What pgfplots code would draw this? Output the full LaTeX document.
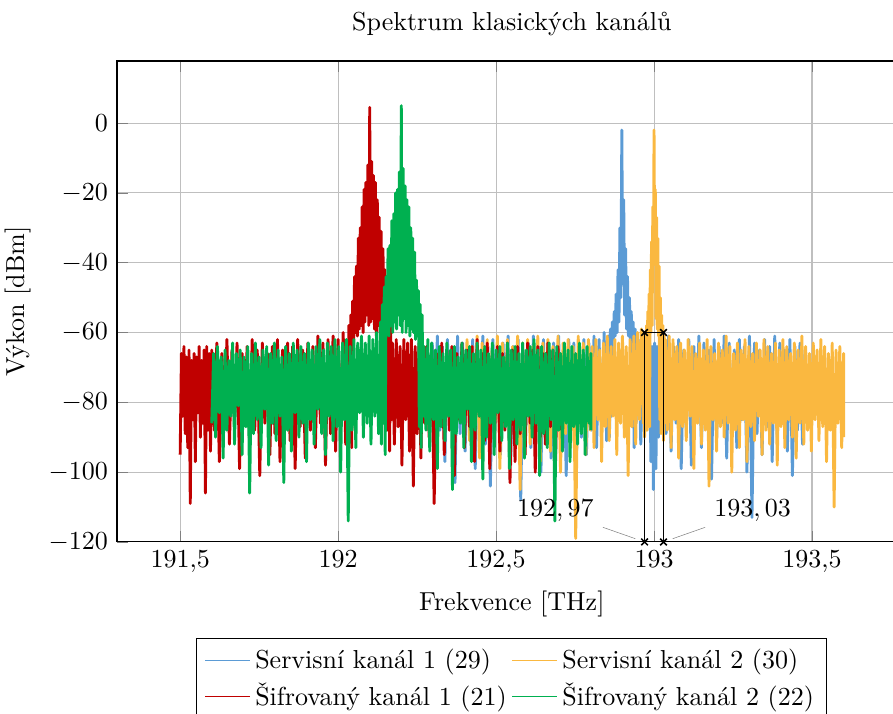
\documentclass[border=0pt]{standalone}
\usepackage{fontspec}
\usepackage{pgfplots}
\usepackage{pgfplotstable}
\pgfplotsset{compat=1.18}
\definecolor{cblue}{HTML}{5B9BD5}
\definecolor{corange}{HTML}{FAB840}
\definecolor{cred}{HTML}{C00000}
\definecolor{cgreen}{HTML}{00B050}

\pgfplotstableread{
x y
191.500 -95
191.504 -66
191.508 -84
191.512 -64
191.516 -89
191.520 -67
191.524 -93
191.528 -65
191.532 -109
191.536 -68
191.540 -85
191.544 -66
191.548 -97
191.552 -67
191.556 -83
191.560 -64
191.564 -90
191.568 -68
191.572 -86
191.576 -65
191.580 -106
191.584 -64
191.588 -88
191.592 -66
191.596 -94
191.600 -65
191.608 -88
191.616 -63
191.624 -97
191.632 -66
191.640 -85
191.648 -62
191.656 -92
191.664 -65
191.672 -87
191.680 -63
191.688 -99
191.696 -66
191.704 -84
191.712 -64
191.720 -93
191.728 -62
191.736 -88
191.744 -65
191.752 -101
191.760 -63
191.768 -86
191.776 -66
191.784 -95
191.792 -64
191.800 -89
191.808 -62
191.816 -97
191.824 -65
191.832 -85
191.840 -63
191.848 -91
191.856 -64
191.864 -99
191.872 -62
191.880 -87
191.888 -65
191.896 -96
191.904 -63
191.912 -88
191.920 -64
191.928 -93
191.936 -61
191.944 -86
191.952 -63
191.960 -98
191.968 -62
191.976 -89
191.984 -61
191.992 -94
192.000 -62
192.008 -87
192.016 -60
192.024 -92
192.031 -90
192.034 -58
192.037 -86
192.040 -55
192.043 -93
192.046 -51
192.049 -62
192.052 -44
192.055 -60
192.058 -41
192.061 -61
192.064 -33
192.067 -59
192.070 -30
192.073 -58
192.076 -24
192.079 -60
192.082 -19
192.085 -57
192.088 -17
192.091 -55
192.094 -12
192.097 -58
192.100 4.5
192.103 -57
192.106 -11
192.109 -56
192.112 -15
192.115 -59
192.118 -17
192.121 -61
192.124 -22
192.127 -58
192.130 -27
192.133 -60
192.136 -31
192.139 -62
192.142 -36
192.145 -61
192.148 -42
192.151 -63
192.154 -47
192.157 -88
192.160 -52
192.163 -94
192.166 -56
192.169 -85
192.172 -63
192.178 -92
192.184 -62
192.190 -87
192.196 -64
192.202 -98
192.208 -62
192.214 -85
192.220 -63
192.226 -94
192.232 -62
192.238 -104
192.244 -64
192.250 -89
192.256 -63
192.262 -96
192.268 -65
192.274 -86
192.280 -64
192.288 -90
192.296 -64
192.304 -109
192.312 -66
192.320 -86
192.328 -63
192.336 -95
192.344 -65
192.352 -88
192.360 -64
192.368 -101
192.376 -66
192.384 -85
192.392 -63
192.400 -93
192.408 -65
192.416 -87
192.424 -64
192.432 -97
192.440 -62
192.448 -84
192.456 -66
192.464 -91
192.472 -63
192.480 -99
192.488 -65
192.496 -86
192.504 -64
192.512 -94
192.520 -66
192.528 -88
192.536 -63
192.544 -103
192.552 -65
192.560 -97
192.568 -64
192.576 -89
192.584 -66
192.592 -95
192.600 -63
192.608 -86
192.616 -65
192.624 -100
192.632 -64
192.640 -90
192.648 -66
192.656 -92
192.664 -63
192.672 -87
192.680 -65
192.688 -98
192.696 -64
192.704 -88
}\redtab

\pgfplotstableread{
x y
191.600 -86
191.606 -66
191.612 -90
191.618 -64
191.624 -83
191.630 -67
191.636 -96
191.642 -65
191.648 -88
191.654 -68
191.660 -84
191.666 -63
191.672 -92
191.678 -66
191.684 -81
191.690 -65
191.696 -95
191.702 -67
191.708 -87
191.714 -64
191.720 -106
191.726 -66
191.732 -89
191.738 -63
191.744 -85
191.750 -67
191.756 -93
191.762 -65
191.768 -82
191.774 -64
191.780 -98
191.786 -66
191.792 -86
191.798 -63
191.804 -91
191.810 -65
191.816 -84
191.822 -67
191.828 -103
191.834 -64
191.840 -88
191.846 -66
191.852 -94
191.858 -63
191.864 -83
191.870 -65
191.876 -90
191.882 -64
191.888 -86
191.894 -66
191.900 -97
191.906 -63
191.912 -85
191.918 -65
191.924 -92
191.930 -64
191.936 -82
191.942 -62
191.948 -89
191.954 -65
191.960 -95
191.966 -63
191.972 -84
191.978 -64
191.984 -91
191.990 -62
191.996 -87
192.002 -64
192.008 -100
192.014 -63
192.020 -85
192.026 -62
192.032 -114
192.038 -64
192.044 -88
192.050 -62
192.056 -93
192.062 -63
192.068 -83
192.074 -61
192.080 -90
192.086 -63
192.092 -86
192.098 -61
192.104 -92
192.110 -62
192.116 -84
192.122 -60
192.128 -89
192.131 -88
192.134 -57
192.137 -92
192.140 -52
192.143 -86
192.146 -47
192.149 -95
192.152 -44
192.155 -60
192.158 -36
192.161 -61
192.164 -35
192.167 -58
192.170 -28
192.173 -60
192.176 -26
192.179 -57
192.182 -20
192.185 -59
192.188 -19
192.191 -55
192.194 -14
192.197 -58
192.200 5
192.203 -60
192.206 -13
192.209 -56
192.212 -18
192.215 -60
192.218 -22
192.221 -58
192.224 -24
192.227 -61
192.230 -30
192.233 -59
192.236 -33
192.239 -60
192.242 -37
192.245 -62
192.248 -45
192.251 -61
192.254 -48
192.257 -87
192.260 -52
192.263 -93
192.266 -55
192.269 -84
192.272 -64
192.278 -88
192.284 -62
192.290 -94
192.296 -63
192.302 -85
192.308 -65
192.314 -99
192.320 -64
192.326 -87
192.332 -66
192.338 -91
192.344 -63
192.350 -84
192.356 -65
192.362 -105
192.368 -64
192.374 -89
192.380 -67
192.386 -86
192.392 -63
192.398 -93
192.404 -65
192.410 -82
192.416 -64
192.422 -97
192.428 -66
192.434 -88
192.440 -63
192.446 -84
192.452 -65
192.458 -102
192.464 -64
192.470 -90
192.476 -66
192.482 -86
192.488 -63
192.494 -95
192.500 -65
192.506 -83
192.512 -64
192.518 -91
192.524 -67
192.530 -87
192.536 -63
192.542 -99
192.548 -65
192.554 -85
192.560 -64
192.566 -92
192.572 -66
192.578 -88
192.584 -63
192.590 -96
192.596 -65
192.602 -84
192.608 -64
192.614 -90
192.620 -62
192.626 -86
192.632 -65
192.638 -101
192.644 -64
192.650 -89
192.656 -66
192.662 -93
192.668 -63
192.674 -85
192.680 -65
192.686 -114
192.692 -64
192.698 -88
192.704 -66
192.710 -94
192.716 -63
192.722 -86
192.728 -65
192.734 -97
192.740 -64
192.746 -87
192.752 -66
192.758 -92
192.764 -63
192.770 -89
192.776 -65
192.782 -95
192.788 -64
192.794 -86
192.800 -66
192.800 -88
}\greentab

\pgfplotstableread{
x y
192.290 -85
192.298 -63
192.306 -92
192.314 -61
192.322 -88
192.330 -64
192.338 -97
192.346 -62
192.354 -86
192.362 -65
192.370 -103
192.378 -61
192.386 -89
192.394 -63
192.402 -94
192.410 -64
192.418 -85
192.426 -62
192.434 -99
192.442 -65
192.450 -87
192.458 -61
192.466 -92
192.474 -64
192.482 -104
192.490 -62
192.498 -88
192.506 -65
192.514 -95
192.522 -63
192.530 -86
192.538 -61
192.546 -98
192.554 -64
192.562 -90
192.570 -62
192.578 -108
192.586 -65
192.594 -87
192.602 -63
192.610 -93
192.618 -61
192.626 -85
192.634 -64
192.642 -100
192.650 -62
192.658 -89
192.666 -65
192.674 -96
192.682 -63
192.690 -88
192.698 -61
192.706 -94
192.714 -64
192.722 -101
192.730 -62
192.738 -86
192.746 -63
192.754 -97
192.762 -64
192.770 -90
192.778 -62
192.786 -95
192.794 -63
192.802 -88
192.810 -61
192.818 -93
192.826 -62
192.834 -87
192.842 -60
192.850 -91
192.853 -88
192.856 -61
192.859 -90
192.862 -59
192.865 -84
192.868 -57
192.871 -62
192.874 -54
192.877 -61
192.880 -49
192.883 -60
192.886 -42
192.889 -57
192.892 -30
192.895 -50
192.898 -2
192.901 -46
192.904 -22
192.907 -55
192.910 -36
192.913 -59
192.916 -44
192.919 -61
192.922 -50
192.925 -62
192.928 -54
192.931 -87
192.934 -57
192.937 -93
192.940 -59
192.943 -86
192.950 -62
192.958 -92
192.966 -61
192.974 -88
192.978 -62
192.982 -84
192.986 -63
192.990 -97
192.994 -64
192.998 -105
193.002 -63
193.006 -99
193.010 -64
193.014 -90
193.018 -62
193.022 -86
193.030 -63
193.038 -89
193.046 -61
193.054 -94
193.062 -64
193.070 -86
193.078 -62
193.086 -99
193.094 -65
193.102 -88
193.110 -62
193.118 -98
193.126 -64
193.134 -85
193.142 -61
193.150 -93
193.158 -63
193.166 -87
193.174 -65
193.182 -102
193.190 -62
193.198 -90
193.206 -64
193.214 -86
193.222 -61
193.230 -96
193.238 -63
193.246 -88
193.254 -65
193.262 -93
193.270 -62
193.278 -85
193.286 -64
193.294 -100
193.302 -61
193.310 -113
193.318 -63
193.326 -89
193.334 -65
193.342 -95
193.350 -62
193.358 -87
193.366 -64
193.374 -97
193.382 -61
193.390 -90
193.398 -63
193.406 -86
193.414 -65
193.422 -94
193.430 -62
193.438 -101
193.446 -64
193.454 -88
193.462 -63
193.470 -92
193.478 -65
193.486 -87
}\bluetab

\pgfplotstableread{
x y
192.400 -84
192.408 -62
192.416 -91
192.424 -64
192.432 -87
192.440 -61
192.448 -96
192.456 -63
192.464 -85
192.472 -62
192.480 -93
192.488 -64
192.496 -88
192.504 -61
192.512 -99
192.520 -63
192.528 -86
192.536 -62
192.544 -94
192.552 -64
192.560 -89
192.568 -61
192.576 -105
192.584 -63
192.592 -87
192.600 -62
192.608 -92
192.616 -64
192.624 -85
192.632 -61
192.640 -97
192.648 -63
192.656 -88
192.664 -62
192.672 -94
192.680 -64
192.688 -86
192.696 -61
192.704 -100
192.712 -63
192.720 -89
192.728 -62
192.736 -93
192.744 -64
192.752 -119
192.760 -61
192.768 -87
192.776 -63
192.784 -95
192.792 -62
192.798 -88
192.804 -64
192.810 -93
192.816 -62
192.822 -85
192.828 -65
192.834 -97
192.840 -63
192.846 -87
192.852 -61
192.858 -91
192.864 -64
192.870 -84
192.876 -62
192.882 -95
192.888 -63
192.894 -86
192.900 -61
192.906 -90
192.912 -64
192.918 -101
192.924 -62
192.930 -87
192.936 -61
192.942 -92
192.948 -60
192.954 -85
192.960 -59
192.964 -63
192.966 -86
192.968 -62
192.970 -90
192.972 -60
192.974 -85
192.976 -58
192.978 -88
192.980 -54
192.982 -84
192.984 -49
192.986 -87
192.988 -42
192.990 -60
192.992 -34
192.994 -58
192.996 -24
192.998 -40
193.000 -2
193.002 -38
193.004 -19
193.006 -56
193.008 -27
193.010 -59
193.012 -33
193.014 -61
193.016 -41
193.018 -85
193.020 -50
193.022 -89
193.024 -55
193.026 -84
193.028 -58
193.030 -91
193.032 -61
193.034 -86
193.036 -62
193.042 -88
193.048 -61
193.054 -93
193.060 -62
193.066 -85
193.072 -64
193.078 -96
193.084 -63
193.090 -87
193.096 -65
193.102 -91
193.108 -62
193.114 -84
193.120 -64
193.126 -99
193.132 -66
193.138 -86
193.144 -63
193.150 -92
193.156 -65
193.162 -88
193.168 -62
193.174 -104
193.180 -64
193.186 -85
193.192 -66
193.198 -94
193.204 -63
193.210 -87
193.216 -65
193.222 -90
193.228 -61
193.234 -86
193.240 -64
193.246 -100
193.252 -66
193.258 -88
193.264 -63
193.270 -93
193.276 -65
193.282 -85
193.288 -62
193.294 -97
193.300 -64
193.306 -87
193.312 -66
193.318 -91
193.324 -63
193.330 -84
193.336 -65
193.342 -95
193.348 -62
193.354 -88
193.360 -64
193.366 -92
193.372 -66
193.378 -86
193.384 -63
193.390 -98
193.396 -65
193.402 -87
193.408 -62
193.414 -93
193.420 -64
193.426 -85
193.432 -66
193.438 -90
193.444 -63
193.450 -96
193.456 -65
193.462 -86
193.468 -61
193.474 -92
193.480 -64
193.486 -88
193.492 -66
193.498 -94
193.504 -63
193.510 -85
193.516 -65
193.522 -91
193.528 -62
193.534 -87
193.540 -64
193.546 -97
193.552 -66
193.558 -88
193.564 -63
193.570 -110
193.576 -65
193.582 -86
193.588 -64
193.594 -93
193.600 -66
193.600 -90
}\orangetab

\begin{document}
\begin{tikzpicture}
\begin{axis}[
  name=ax,
  width=303.8pt, height=185pt, scale only axis,
  xmin=191.3, xmax=193.8, ymin=-120, ymax=17.8,
  xtick={191.5,192,192.5,193,193.5},
  ytick={-120,-100,-80,-60,-40,-20,0},
  scaled x ticks=false,
  /pgf/number format/use comma,
  grid=major,
  title={Spektrum klasických kanálů},
  xlabel={Frekvence [THz]},
  ylabel={Výkon [dBm]},
  legend columns=2,
  legend style={at={(0.5,-0.2)}, anchor=north, draw=black, cells={anchor=west}},
  legend image post style={line width=0.4pt},
  every axis plot/.append style={line width=1.1pt, line join=round, mark=none},
]
\addplot[cblue] table {\bluetab};
\addlegendentry{Servisní kanál 1 (29)}
\addplot[corange] table {\orangetab};
\addlegendentry{Servisní kanál 2 (30)}
\addplot[cred] table {\redtab};
\addlegendentry{Šifrovaný kanál 1 (21)}
\addplot[cgreen] table {\greentab};
\addlegendentry{Šifrovaný kanál 2 (22)}
\addplot[black, line width=0.6pt, mark=x, mark size=1.8pt, mark options={solid}, forget plot]
  coordinates {(192.97,-120) (192.97,-60) (193.03,-60) (193.03,-120)};
\node[pin=165:{$192,97$}] at (axis cs:192.97,-120) {};
\node[pin=15:{$193,03$}] at (axis cs:193.03,-120) {};
\end{axis}
\pgfresetboundingbox
\path[use as bounding box] ([xshift=-45pt,yshift=23.46pt]ax.north west) rectangle ([xshift=-5.3pt,yshift=-66.15pt]ax.south east);
\end{tikzpicture}
\end{document}
